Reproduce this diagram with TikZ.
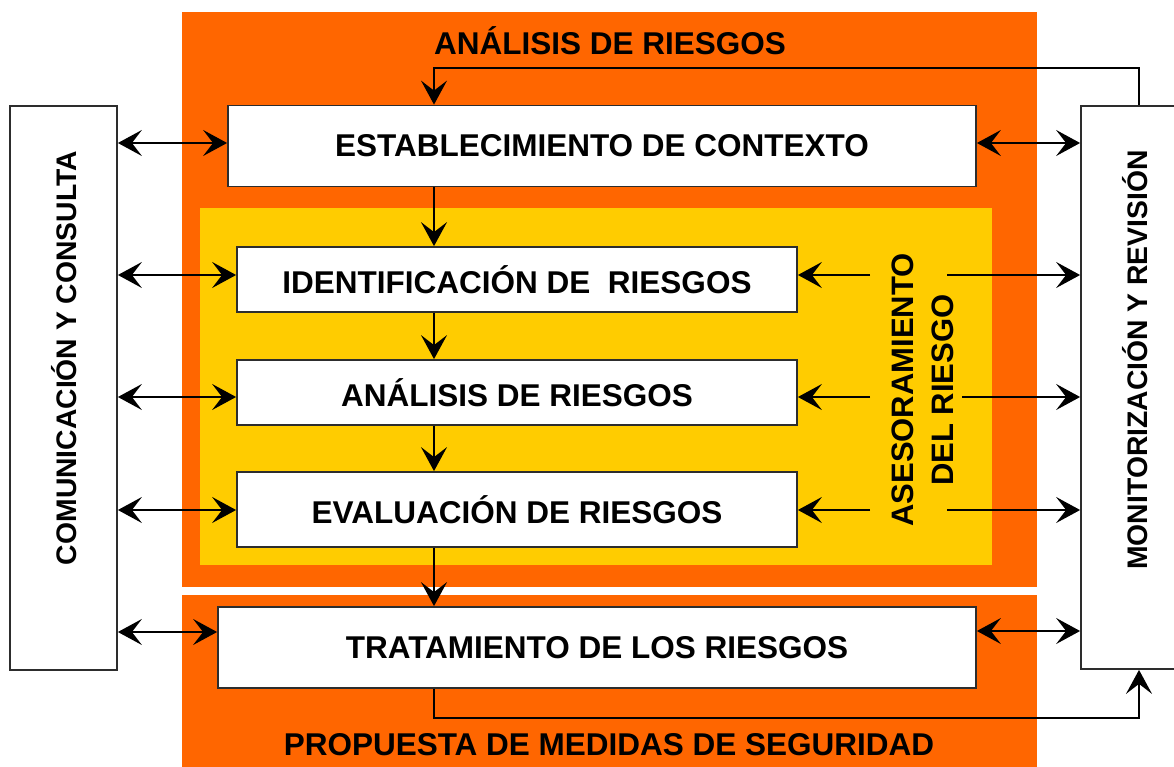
\documentclass[tikz,border=0pt]{standalone}
\usepackage{fontspec}
\setmainfont{Liberation Sans}
\usetikzlibrary{arrows.meta}
\definecolor{riskorange}{RGB}{255,102,0}
\definecolor{riskyellow}{RGB}{255,204,0}
\definecolor{boxline}{RGB}{45,45,45}

\tikzset{
  stagebox/.style={draw=boxline, line width=1.8pt, fill=white, inner sep=0pt,
    font=\bfseries\fontsize{31.5}{36}\selectfont},
  sidebox/.style={draw=boxline, line width=1.8pt, fill=white, inner sep=0pt},
  sidetext/.style={rotate=90, font=\bfseries\fontsize{28.3}{34}\selectfont},
  bigtitle/.style={font=\bfseries\fontsize{31.5}{36}\selectfont},
  flow/.style={line width=1.5pt, -{Stealth[length=24pt,width=26pt,inset=10pt]}},
  link/.style={line width=1.5pt, {Stealth[length=24pt,width=26pt,inset=10pt]}-{Stealth[length=24pt,width=26pt,inset=10pt]}}
}

\begin{document}
\begin{tikzpicture}[x=1pt,y=-1pt]
\useasboundingbox (0,0) rectangle (1174,767);

% background areas
\fill[riskorange] (182,12) rectangle (1037,587);
\fill[riskorange] (182,595) rectangle (1037,770);
\fill[riskyellow] (200,208) rectangle (992,565);

\node[bigtitle] (titleA) at (610,41) {ANÁLISIS DE RIESGOS};
\node[bigtitle] (titleP) at (609,745) {PROPUESTA DE MEDIDAS DE SEGURIDAD};

% stages
\node[stagebox, minimum width=748pt, minimum height=81pt] (estab) at (602,146) {ESTABLECIMIENTO DE CONTEXTO};
\node[stagebox, minimum width=560pt, minimum height=65pt] (ident) at (517,279.5) {IDENTIFICACIÓN DE~~RIESGOS};
\node[stagebox, minimum width=560pt, minimum height=65pt] (anal) at (517,392.5) {ANÁLISIS DE RIESGOS};
\node[stagebox, minimum width=560pt, minimum height=75pt] (eval) at (517,509.5) {EVALUACIÓN DE RIESGOS};
\node[stagebox, minimum width=758pt, minimum height=81pt] (trat) at (597,647.5) {TRATAMIENTO DE LOS RIESGOS};

\node[rotate=90, align=center, font=\bfseries\fontsize{31}{40}\selectfont] (ases) at (923,390) {ASESORAMIENTO\\DEL RIESGO};

% side boxes
\node[sidebox, minimum width=107pt, minimum height=564pt] (comm) at (63.5,388) {};
\node[sidetext] (commtext) at (64,358) {COMUNICACIÓN Y CONSULTA};
\node[sidebox, minimum width=109pt, minimum height=563pt] (monit) at (1135.5,387.5) {};
\node[sidetext] (monittext) at (1135,360) {MONITORIZACIÓN Y REVISIÓN};

% loop coordinates
\coordinate (topL) at (434,68);
\coordinate (topR) at (1139,68);
\coordinate (botL) at (434,718);
\coordinate (botR) at (1139,718);
\coordinate (asesW) at (870,390);

% main flow
\draw[flow] (estab.south -| topL) -- (ident.north -| topL);
\draw[flow] (ident.south -| topL) -- (anal.north -| topL);
\draw[flow] (anal.south -| topL) -- (eval.north -| topL);
\draw[flow] (eval.south -| topL) -- (trat.north -| topL);

% feedback loops
\draw[flow] (monit.north -| topR) -- (topR) -- (topL) -- (estab.north -| topL);
\draw[flow] (trat.south -| botL) -- (botL) -- (botR) -- (monit.south -| botR);

% communication
\foreach \n/\y in {estab/143, ident/275, anal/397, eval/510, trat/632}
  \draw[link] (comm.east |- 0,\y) -- (\n.west |- 0,\y);

% monitoring
\draw[link] (estab.east |- 0,143) -- (monit.west |- 0,143);
\draw[link] (trat.east |- 0,631) -- (monit.west |- 0,631);
\foreach \n/\y/\x in {ident/275/947, anal/397/962, eval/510/947} {
  \draw[flow] (asesW |- 0,\y) -- (\n.east |- 0,\y);
  \draw[flow] (\x,\y) -- (monit.west |- 0,\y);
}
\end{tikzpicture}
\end{document}
